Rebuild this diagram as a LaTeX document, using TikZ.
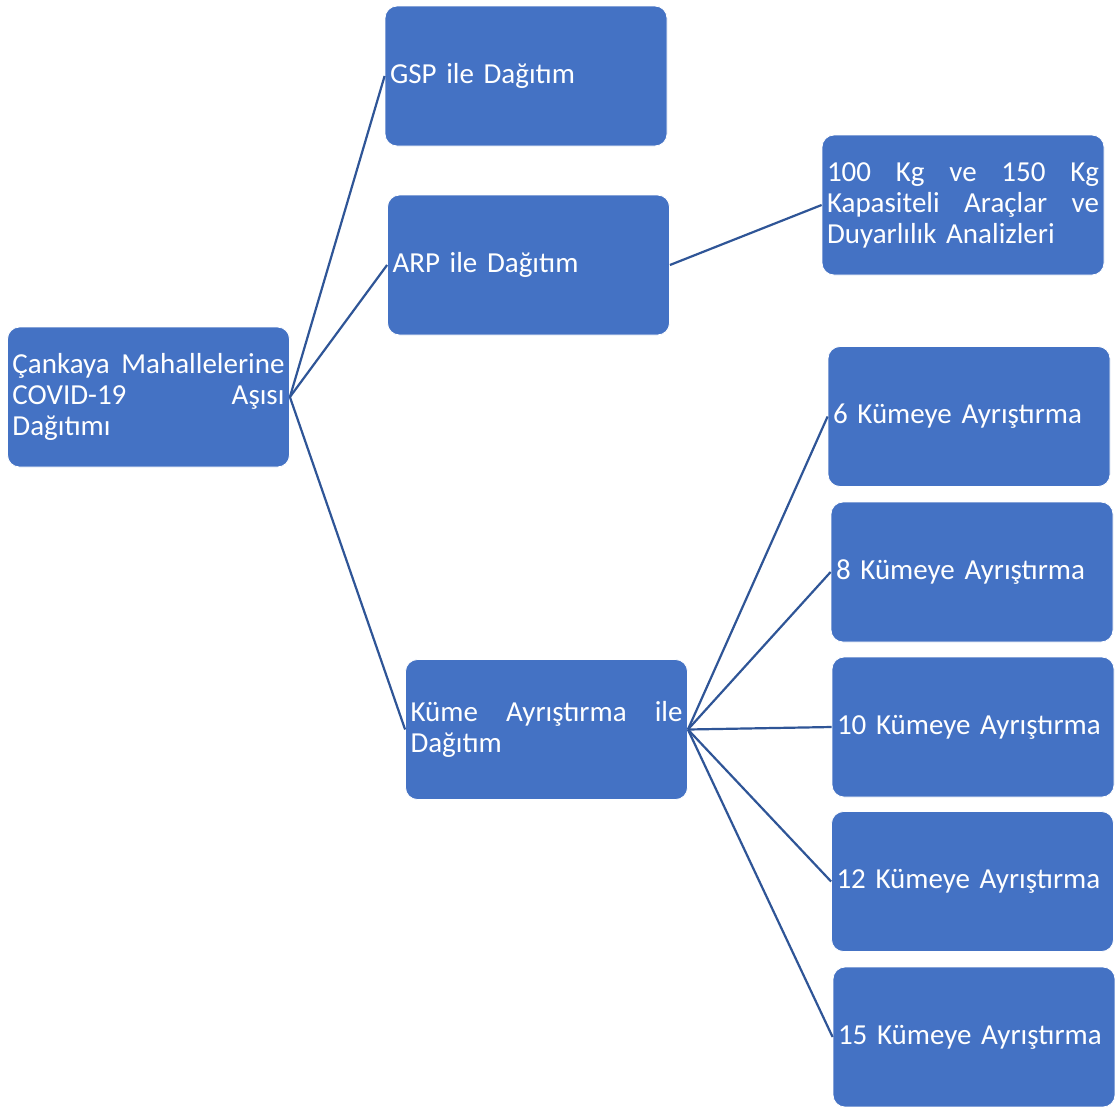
\documentclass[tikz,border=0pt]{standalone}
\usepackage{fontspec}
\setmainfont{Carlito}
\definecolor{boxblue}{HTML}{4472C4}
\definecolor{linkblue}{HTML}{2F5597}
\begin{document}
\begin{tikzpicture}[x=1pt,y=-1pt,
  box/.style={rectangle, rounded corners=12pt, fill=boxblue, draw=white, line width=0.8pt,
    minimum width=282pt, minimum height=140pt, text width=272pt, inner xsep=5pt, inner ysep=0pt,
    align=left, text=white, font=\fontsize{29}{31}\selectfont},
  conn/.style={draw=linkblue, line width=2.2pt}]
\fill[white] (0,0) rectangle (1115,1106);
\useasboundingbox (0,0) rectangle (1115,1106);
\node[box] (root) at (148.5,397) {Çankaya\hfill Mahallelerine\\COVID-19\hfill Aşısı\\Dağıtımı};
\node[box] (gsp) at (526,76) {GSP ile Dağıtım};
\node[box] (arp) at (528.5,265) {ARP ile Dağıtım};
\node[box] (kg) at (963,205) {100\hfill Kg\hfill ve\hfill 150\hfill Kg\\Kapasiteli\hfill Araçlar\hfill ve\\Duyarlılık Analizleri};
\node[box] (kume) at (546.5,729.5) {Küme\hfill Ayrıştırma\hfill ile\\Dağıtım};
\node[box] (k6) at (969,416.5) {6 Kümeye Ayrıştırma};
\node[box] (k8) at (972,572) {8 Kümeye Ayrıştırma};
\node[box] (k10) at (973,727) {10 Kümeye Ayrıştırma};
\node[box] (k12) at (972.5,881.5) {12 Kümeye Ayrıştırma};
\node[box] (k15) at (974,1037) {15 Kümeye Ayrıştırma};
\draw[conn] (root.east) -- (gsp.west);
\draw[conn] (root.east) -- (arp.west);
\draw[conn] (root.east) -- (kume.west);
\draw[conn] (arp.east) -- (kg.west);
\draw[conn] (kume.east) -- (k6.west);
\draw[conn] (kume.east) -- (k8.west);
\draw[conn] (kume.east) -- (k10.west);
\draw[conn] (kume.east) -- (k12.west);
\draw[conn] (kume.east) -- (k15.west);
\end{tikzpicture}
\end{document}
